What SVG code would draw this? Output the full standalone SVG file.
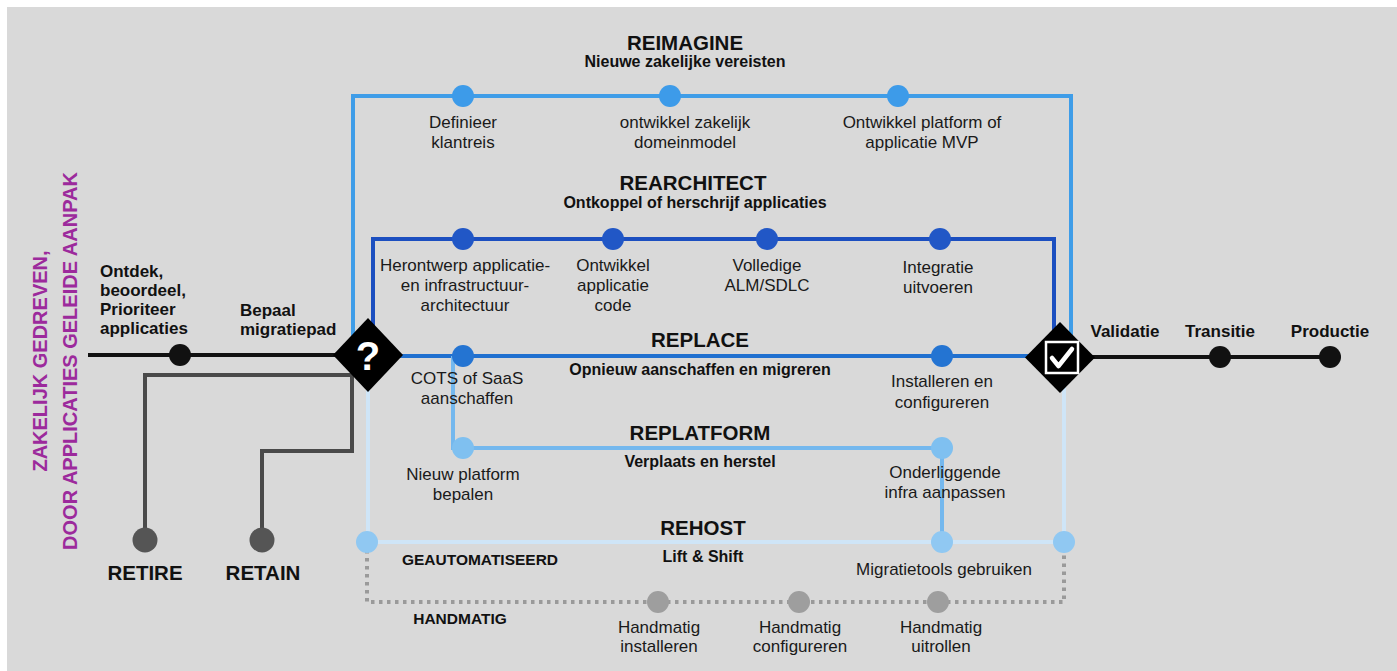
<svg xmlns="http://www.w3.org/2000/svg" width="1397" height="671" viewBox="0 0 1397 671">
<style>
.h{font-family:"Liberation Sans",Arial,sans-serif;font-weight:bold;font-size:20.5px;fill:#111;text-anchor:middle}
.s{font-family:"Liberation Sans",Arial,sans-serif;font-weight:bold;font-size:16px;fill:#111;text-anchor:middle}
.b{font-family:"Liberation Sans",Arial,sans-serif;font-weight:bold;font-size:17px;fill:#111}
.l{font-family:"Liberation Sans",Arial,sans-serif;font-size:17px;fill:#1a1a1a;text-anchor:middle}
.c{font-family:"Liberation Sans",Arial,sans-serif;font-weight:bold;font-size:15.5px;fill:#111;text-anchor:middle}
.p{font-family:"Liberation Sans",Arial,sans-serif;font-weight:bold;font-size:20px;fill:#9c2a9c;text-anchor:middle}
.ln{fill:none;stroke-width:4;stroke-linejoin:miter}
</style>
<rect x="0" y="0" width="1397" height="671" fill="#ffffff"/>
<rect x="7" y="7" width="1390" height="664" fill="#d9d9d9"/>

<g id="title">
<text class="p" transform="translate(47,361) rotate(-90)">ZAKELIJK GEDREVEN,</text>
<text class="p" transform="translate(77,361) rotate(-90)">DOOR APPLICATIES GELEIDE AANPAK</text>
</g>

<g id="connectors">
<path class="ln" d="M353,340 V96 H1071 V345" stroke="#3f9de8"/>
<path class="ln" d="M373,340 V239 H1054 V345" stroke="#1c4fc0"/>
<path class="ln" d="M368,356 H1060" stroke="#2070d0"/>
<path class="ln" d="M453,356 V448 H942 V542" stroke="#74b8ee"/>
<path class="ln" d="M368,360 V542 H1064 V360" stroke="#cfe5f7"/>
<path class="ln" d="M367,542 V602 H1064 V542" stroke="#9a9a9a" stroke-width="3.5" stroke-dasharray="3.5 4.5"/>
<path class="ln" d="M88,355 H368" stroke="#111"/>
<path class="ln" d="M1060,357 H1332" stroke="#111"/>
<path class="ln" d="M352,360 V375 H145 V540" stroke="#4a4a4a"/>
<path class="ln" d="M352,375 V451 H262 V540" stroke="#4a4a4a"/>
</g>

<g id="start">
<circle cx="180" cy="355" r="11" fill="#111"/>
<text class="b" x="100" y="277">Ontdek,</text>
<text class="b" x="100" y="296">beoordeel,</text>
<text class="b" x="100" y="315">Prioriteer</text>
<text class="b" x="100" y="334">applicaties</text>
<text class="b" x="240" y="316">Bepaal</text>
<text class="b" x="240" y="335">migratiepad</text>
</g>

<g id="retire">
<circle cx="145" cy="540" r="12.5" fill="#555"/>
<text class="h" x="145" y="580">RETIRE</text>
</g>
<g id="retain">
<circle cx="262" cy="540" r="12.5" fill="#555"/>
<text class="h" x="263" y="580">RETAIN</text>
</g>

<g id="decision">
<path d="M368,318 L403,355 L368,392 L333,355 Z" fill="#000"/>
<text x="368" y="370" font-family="Liberation Sans,Arial,sans-serif" font-weight="bold" font-size="40" fill="#fff" text-anchor="middle">?</text>
</g>

<g id="reimagine">
<text class="h" x="685" y="50">REIMAGINE</text>
<text class="s" x="685" y="67">Nieuwe zakelijke vereisten</text>
<circle cx="463" cy="96" r="11" fill="#3d9be9"/>
<circle cx="670" cy="96" r="11" fill="#3d9be9"/>
<circle cx="898" cy="96" r="11" fill="#3d9be9"/>
<text class="l" x="463" y="128">Definieer</text>
<text class="l" x="463" y="148">klantreis</text>
<text class="l" x="685" y="128">ontwikkel zakelijk</text>
<text class="l" x="685" y="148">domeinmodel</text>
<text class="l" x="922" y="128">Ontwikkel platform of</text>
<text class="l" x="922" y="148">applicatie MVP</text>
</g>

<g id="rearchitect">
<text class="h" x="693" y="190">REARCHITECT</text>
<text class="s" x="695" y="208">Ontkoppel of herschrijf applicaties</text>
<circle cx="463" cy="239" r="11" fill="#2157c6"/>
<circle cx="613" cy="239" r="11" fill="#2157c6"/>
<circle cx="767" cy="239" r="11" fill="#2157c6"/>
<circle cx="940" cy="239" r="11" fill="#2157c6"/>
<text class="l" x="465" y="271">Herontwerp applicatie-</text>
<text class="l" x="465" y="291">en infrastructuur-</text>
<text class="l" x="465" y="311">architectuur</text>
<text class="l" x="613" y="271">Ontwikkel</text>
<text class="l" x="613" y="291">applicatie</text>
<text class="l" x="613" y="311">code</text>
<text class="l" x="767" y="271">Volledige</text>
<text class="l" x="767" y="291">ALM/SDLC</text>
<text class="l" x="938" y="273">Integratie</text>
<text class="l" x="938" y="293">uitvoeren</text>
</g>

<g id="replace">
<text class="h" x="700" y="347">REPLACE</text>
<text class="s" x="700" y="375">Opnieuw aanschaffen en migreren</text>
<circle cx="463" cy="356" r="11" fill="#2474d2"/>
<circle cx="942" cy="356" r="11" fill="#2474d2"/>
<text class="l" x="467" y="384">COTS of SaaS</text>
<text class="l" x="467" y="404">aanschaffen</text>
<text class="l" x="942" y="387">Installeren en</text>
<text class="l" x="942" y="408">configureren</text>
</g>

<g id="replatform">
<text class="h" x="700" y="440">REPLATFORM</text>
<text class="s" x="700" y="467">Verplaats en herstel</text>
<circle cx="463" cy="448" r="11" fill="#7fc0f0"/>
<circle cx="942" cy="448" r="11" fill="#7fc0f0"/>
<text class="l" x="463" y="480">Nieuw platform</text>
<text class="l" x="463" y="500">bepalen</text>
<text class="l" x="945" y="478">Onderliggende</text>
<text class="l" x="945" y="498">infra aanpassen</text>
</g>

<g id="rehost">
<text class="h" x="703" y="535">REHOST</text>
<text class="s" x="703" y="562">Lift &amp; Shift</text>
<circle cx="367" cy="542" r="11" fill="#90c8f2"/>
<circle cx="942" cy="542" r="11" fill="#90c8f2"/>
<circle cx="1064" cy="542" r="11" fill="#90c8f2"/>
<text class="c" x="480" y="565">GEAUTOMATISEERD</text>
<text class="l" x="944" y="575">Migratietools gebruiken</text>
</g>

<g id="handmatig">
<text class="c" x="460" y="624">HANDMATIG</text>
<circle cx="658" cy="602" r="11" fill="#9e9e9e"/>
<circle cx="799" cy="602" r="11" fill="#9e9e9e"/>
<circle cx="938" cy="602" r="11" fill="#9e9e9e"/>
<text class="l" x="659" y="633">Handmatig</text>
<text class="l" x="659" y="652">installeren</text>
<text class="l" x="800" y="633">Handmatig</text>
<text class="l" x="800" y="652">configureren</text>
<text class="l" x="941" y="633">Handmatig</text>
<text class="l" x="941" y="652">uitrollen</text>
</g>

<g id="check">
<path d="M1060,322 L1095,357.5 L1060,393 L1025,357.5 Z" fill="#000"/>
<rect x="1046" y="342" width="32" height="31" fill="none" stroke="#fff" stroke-width="2.5"/>
<path d="M1052,358 L1058.5,366 L1072,349" fill="none" stroke="#fff" stroke-width="4.5" stroke-linecap="round" stroke-linejoin="round"/>
</g>

<g id="end">
<circle cx="1220" cy="357" r="11" fill="#111"/>
<circle cx="1330" cy="357" r="11" fill="#111"/>
<text class="b" x="1125" y="337" text-anchor="middle">Validatie</text>
<text class="b" x="1220" y="337" text-anchor="middle">Transitie</text>
<text class="b" x="1330" y="337" text-anchor="middle">Productie</text>
</g>
</svg>
